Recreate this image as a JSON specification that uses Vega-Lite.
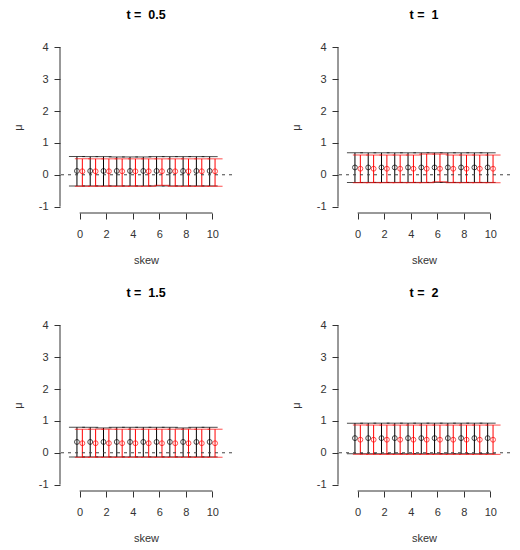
{
  "$schema": "https://vega.github.io/schema/vega-lite/v6.json",
  "padding": {"left": 12, "top": 8, "right": 0, "bottom": 0},
  "data": {
    "values": [
      {"t": 0.5, "skew": 0, "grp": "black", "mean": 0.12, "lo": -0.35, "hi": 0.57},
      {"t": 0.5, "skew": 1, "grp": "black", "mean": 0.12, "lo": -0.35, "hi": 0.57},
      {"t": 0.5, "skew": 2, "grp": "black", "mean": 0.12, "lo": -0.35, "hi": 0.57},
      {"t": 0.5, "skew": 3, "grp": "black", "mean": 0.12, "lo": -0.35, "hi": 0.56},
      {"t": 0.5, "skew": 4, "grp": "black", "mean": 0.12, "lo": -0.35, "hi": 0.56},
      {"t": 0.5, "skew": 5, "grp": "black", "mean": 0.12, "lo": -0.35, "hi": 0.56},
      {"t": 0.5, "skew": 6, "grp": "black", "mean": 0.12, "lo": -0.35, "hi": 0.57},
      {"t": 0.5, "skew": 7, "grp": "black", "mean": 0.12, "lo": -0.35, "hi": 0.57},
      {"t": 0.5, "skew": 8, "grp": "black", "mean": 0.12, "lo": -0.35, "hi": 0.57},
      {"t": 0.5, "skew": 9, "grp": "black", "mean": 0.12, "lo": -0.35, "hi": 0.57},
      {"t": 0.5, "skew": 10, "grp": "black", "mean": 0.12, "lo": -0.35, "hi": 0.57},
      {"t": 0.5, "skew": 0, "grp": "red", "mean": 0.11, "lo": -0.36, "hi": 0.50},
      {"t": 0.5, "skew": 1, "grp": "red", "mean": 0.11, "lo": -0.36, "hi": 0.50},
      {"t": 0.5, "skew": 2, "grp": "red", "mean": 0.11, "lo": -0.36, "hi": 0.50},
      {"t": 0.5, "skew": 3, "grp": "red", "mean": 0.11, "lo": -0.36, "hi": 0.50},
      {"t": 0.5, "skew": 4, "grp": "red", "mean": 0.11, "lo": -0.36, "hi": 0.50},
      {"t": 0.5, "skew": 5, "grp": "red", "mean": 0.11, "lo": -0.36, "hi": 0.50},
      {"t": 0.5, "skew": 6, "grp": "red", "mean": 0.11, "lo": -0.33, "hi": 0.50},
      {"t": 0.5, "skew": 7, "grp": "red", "mean": 0.11, "lo": -0.36, "hi": 0.50},
      {"t": 0.5, "skew": 8, "grp": "red", "mean": 0.11, "lo": -0.36, "hi": 0.50},
      {"t": 0.5, "skew": 9, "grp": "red", "mean": 0.11, "lo": -0.36, "hi": 0.50},
      {"t": 0.5, "skew": 10, "grp": "red", "mean": 0.11, "lo": -0.36, "hi": 0.50},
      {"t": 1, "skew": 0, "grp": "black", "mean": 0.23, "lo": -0.24, "hi": 0.69},
      {"t": 1, "skew": 1, "grp": "black", "mean": 0.23, "lo": -0.24, "hi": 0.69},
      {"t": 1, "skew": 2, "grp": "black", "mean": 0.23, "lo": -0.24, "hi": 0.69},
      {"t": 1, "skew": 3, "grp": "black", "mean": 0.23, "lo": -0.24, "hi": 0.69},
      {"t": 1, "skew": 4, "grp": "black", "mean": 0.23, "lo": -0.24, "hi": 0.69},
      {"t": 1, "skew": 5, "grp": "black", "mean": 0.23, "lo": -0.24, "hi": 0.69},
      {"t": 1, "skew": 6, "grp": "black", "mean": 0.23, "lo": -0.24, "hi": 0.69},
      {"t": 1, "skew": 7, "grp": "black", "mean": 0.23, "lo": -0.24, "hi": 0.69},
      {"t": 1, "skew": 8, "grp": "black", "mean": 0.23, "lo": -0.24, "hi": 0.69},
      {"t": 1, "skew": 9, "grp": "black", "mean": 0.23, "lo": -0.24, "hi": 0.69},
      {"t": 1, "skew": 10, "grp": "black", "mean": 0.23, "lo": -0.24, "hi": 0.69},
      {"t": 1, "skew": 0, "grp": "red", "mean": 0.19, "lo": -0.25, "hi": 0.62},
      {"t": 1, "skew": 1, "grp": "red", "mean": 0.19, "lo": -0.25, "hi": 0.62},
      {"t": 1, "skew": 2, "grp": "red", "mean": 0.19, "lo": -0.25, "hi": 0.62},
      {"t": 1, "skew": 3, "grp": "red", "mean": 0.19, "lo": -0.25, "hi": 0.62},
      {"t": 1, "skew": 4, "grp": "red", "mean": 0.19, "lo": -0.25, "hi": 0.62},
      {"t": 1, "skew": 5, "grp": "red", "mean": 0.19, "lo": -0.25, "hi": 0.65},
      {"t": 1, "skew": 6, "grp": "red", "mean": 0.19, "lo": -0.22, "hi": 0.65},
      {"t": 1, "skew": 7, "grp": "red", "mean": 0.19, "lo": -0.25, "hi": 0.62},
      {"t": 1, "skew": 8, "grp": "red", "mean": 0.19, "lo": -0.25, "hi": 0.62},
      {"t": 1, "skew": 9, "grp": "red", "mean": 0.19, "lo": -0.25, "hi": 0.62},
      {"t": 1, "skew": 10, "grp": "red", "mean": 0.19, "lo": -0.25, "hi": 0.62},
      {"t": 1.5, "skew": 0, "grp": "black", "mean": 0.34, "lo": -0.13, "hi": 0.80},
      {"t": 1.5, "skew": 1, "grp": "black", "mean": 0.34, "lo": -0.13, "hi": 0.80},
      {"t": 1.5, "skew": 2, "grp": "black", "mean": 0.34, "lo": -0.13, "hi": 0.78},
      {"t": 1.5, "skew": 3, "grp": "black", "mean": 0.34, "lo": -0.13, "hi": 0.80},
      {"t": 1.5, "skew": 4, "grp": "black", "mean": 0.34, "lo": -0.13, "hi": 0.80},
      {"t": 1.5, "skew": 5, "grp": "black", "mean": 0.34, "lo": -0.13, "hi": 0.80},
      {"t": 1.5, "skew": 6, "grp": "black", "mean": 0.34, "lo": -0.13, "hi": 0.80},
      {"t": 1.5, "skew": 7, "grp": "black", "mean": 0.34, "lo": -0.13, "hi": 0.80},
      {"t": 1.5, "skew": 8, "grp": "black", "mean": 0.34, "lo": -0.13, "hi": 0.78},
      {"t": 1.5, "skew": 9, "grp": "black", "mean": 0.34, "lo": -0.13, "hi": 0.80},
      {"t": 1.5, "skew": 10, "grp": "black", "mean": 0.34, "lo": -0.13, "hi": 0.80},
      {"t": 1.5, "skew": 0, "grp": "red", "mean": 0.30, "lo": -0.14, "hi": 0.74},
      {"t": 1.5, "skew": 1, "grp": "red", "mean": 0.30, "lo": -0.14, "hi": 0.74},
      {"t": 1.5, "skew": 2, "grp": "red", "mean": 0.30, "lo": -0.14, "hi": 0.74},
      {"t": 1.5, "skew": 3, "grp": "red", "mean": 0.30, "lo": -0.14, "hi": 0.74},
      {"t": 1.5, "skew": 4, "grp": "red", "mean": 0.30, "lo": -0.14, "hi": 0.74},
      {"t": 1.5, "skew": 5, "grp": "red", "mean": 0.30, "lo": -0.14, "hi": 0.74},
      {"t": 1.5, "skew": 6, "grp": "red", "mean": 0.30, "lo": -0.14, "hi": 0.74},
      {"t": 1.5, "skew": 7, "grp": "red", "mean": 0.30, "lo": -0.14, "hi": 0.74},
      {"t": 1.5, "skew": 8, "grp": "red", "mean": 0.30, "lo": -0.14, "hi": 0.74},
      {"t": 1.5, "skew": 9, "grp": "red", "mean": 0.30, "lo": -0.14, "hi": 0.74},
      {"t": 1.5, "skew": 10, "grp": "red", "mean": 0.30, "lo": -0.14, "hi": 0.74},
      {"t": 2, "skew": 0, "grp": "black", "mean": 0.46, "lo": -0.03, "hi": 0.93},
      {"t": 2, "skew": 1, "grp": "black", "mean": 0.46, "lo": -0.03, "hi": 0.93},
      {"t": 2, "skew": 2, "grp": "black", "mean": 0.46, "lo": -0.03, "hi": 0.93},
      {"t": 2, "skew": 3, "grp": "black", "mean": 0.46, "lo": -0.03, "hi": 0.93},
      {"t": 2, "skew": 4, "grp": "black", "mean": 0.46, "lo": -0.03, "hi": 0.93},
      {"t": 2, "skew": 5, "grp": "black", "mean": 0.46, "lo": -0.03, "hi": 0.93},
      {"t": 2, "skew": 6, "grp": "black", "mean": 0.46, "lo": -0.03, "hi": 0.93},
      {"t": 2, "skew": 7, "grp": "black", "mean": 0.46, "lo": -0.03, "hi": 0.93},
      {"t": 2, "skew": 8, "grp": "black", "mean": 0.46, "lo": -0.03, "hi": 0.93},
      {"t": 2, "skew": 9, "grp": "black", "mean": 0.46, "lo": -0.03, "hi": 0.93},
      {"t": 2, "skew": 10, "grp": "black", "mean": 0.46, "lo": -0.03, "hi": 0.93},
      {"t": 2, "skew": 0, "grp": "red", "mean": 0.41, "lo": -0.05, "hi": 0.87},
      {"t": 2, "skew": 1, "grp": "red", "mean": 0.41, "lo": -0.05, "hi": 0.87},
      {"t": 2, "skew": 2, "grp": "red", "mean": 0.41, "lo": -0.05, "hi": 0.87},
      {"t": 2, "skew": 3, "grp": "red", "mean": 0.41, "lo": -0.05, "hi": 0.87},
      {"t": 2, "skew": 4, "grp": "red", "mean": 0.41, "lo": -0.05, "hi": 0.87},
      {"t": 2, "skew": 5, "grp": "red", "mean": 0.41, "lo": -0.05, "hi": 0.87},
      {"t": 2, "skew": 6, "grp": "red", "mean": 0.41, "lo": -0.05, "hi": 0.87},
      {"t": 2, "skew": 7, "grp": "red", "mean": 0.41, "lo": -0.05, "hi": 0.87},
      {"t": 2, "skew": 8, "grp": "red", "mean": 0.41, "lo": -0.05, "hi": 0.87},
      {"t": 2, "skew": 9, "grp": "red", "mean": 0.41, "lo": -0.05, "hi": 0.87},
      {"t": 2, "skew": 10, "grp": "red", "mean": 0.41, "lo": -0.05, "hi": 0.87}
    ]
  },
  "facet": {
    "field": "t",
    "type": "ordinal",
    "header": {"title": null, "labelExpr": "'t = \u00a0' + datum.value"}
  },
  "columns": 2,
  "spacing": {"row": 106, "column": 106},
  "bounds": "flush",
  "resolve": {"axis": {"x": "independent", "y": "independent"}},
  "spec": {
    "width": 172,
    "height": 172,
    "layer": [
      {
        "transform": [{"filter": "datum.grp == 'black'"}],
        "layer": [
          {
            "mark": {"type": "rule", "color": "black", "strokeWidth": 1, "xOffset": -2.7},
            "encoding": {
              "x": {
                "field": "skew",
                "type": "quantitative",
                "title": "skew",
                "scale": {"domain": [-1.48, 11.48], "nice": false, "zero": false},
                "axis": {"values": [0, 2, 4, 6, 8, 10], "tickCount": 6}
              },
              "y": {
                "field": "lo",
                "type": "quantitative",
                "title": "μ",
                "scale": {"domain": [-1.2, 4.2], "nice": false, "zero": false},
                "axis": {"values": [-1, 0, 1, 2, 3, 4], "tickCount": 6}
              },
              "y2": {"field": "hi"}
            }
          },
          {
            "mark": {"type": "tick", "orient": "horizontal", "color": "black", "size": 16, "thickness": 1, "xOffset": -2.7},
            "encoding": {
              "x": {"field": "skew", "type": "quantitative", "title": "skew", "axis": {"values": [0, 2, 4, 6, 8, 10], "tickCount": 6}},
              "y": {"field": "hi", "type": "quantitative", "title": "μ", "axis": {"values": [-1, 0, 1, 2, 3, 4], "tickCount": 6}}
            }
          },
          {
            "mark": {"type": "tick", "orient": "horizontal", "color": "black", "size": 16, "thickness": 1, "xOffset": -2.7},
            "encoding": {
              "x": {"field": "skew", "type": "quantitative", "title": "skew", "axis": {"values": [0, 2, 4, 6, 8, 10], "tickCount": 6}},
              "y": {"field": "lo", "type": "quantitative", "title": "μ", "axis": {"values": [-1, 0, 1, 2, 3, 4], "tickCount": 6}}
            }
          },
          {
            "mark": {"type": "point", "shape": "circle", "filled": false, "color": "black", "size": 24, "strokeWidth": 1, "xOffset": -2.7},
            "encoding": {
              "x": {"field": "skew", "type": "quantitative", "title": "skew", "axis": {"values": [0, 2, 4, 6, 8, 10], "tickCount": 6}},
              "y": {"field": "mean", "type": "quantitative", "title": "μ", "axis": {"values": [-1, 0, 1, 2, 3, 4], "tickCount": 6}}
            }
          }
        ]
      },
      {
        "transform": [{"filter": "datum.grp == 'red'"}],
        "layer": [
          {
            "mark": {"type": "rule", "color": "#ff0000", "strokeWidth": 1, "xOffset": 2.7},
            "encoding": {
              "x": {"field": "skew", "type": "quantitative", "title": "skew", "axis": {"values": [0, 2, 4, 6, 8, 10], "tickCount": 6}},
              "y": {"field": "lo", "type": "quantitative", "title": "μ", "axis": {"values": [-1, 0, 1, 2, 3, 4], "tickCount": 6}},
              "y2": {"field": "hi"}
            }
          },
          {
            "mark": {"type": "tick", "orient": "horizontal", "color": "#ff0000", "size": 15, "thickness": 1, "xOffset": 2.7},
            "encoding": {
              "x": {"field": "skew", "type": "quantitative", "title": "skew", "axis": {"values": [0, 2, 4, 6, 8, 10], "tickCount": 6}},
              "y": {"field": "hi", "type": "quantitative", "title": "μ", "axis": {"values": [-1, 0, 1, 2, 3, 4], "tickCount": 6}}
            }
          },
          {
            "mark": {"type": "tick", "orient": "horizontal", "color": "#ff0000", "size": 15, "thickness": 1, "xOffset": 2.7},
            "encoding": {
              "x": {"field": "skew", "type": "quantitative", "title": "skew", "axis": {"values": [0, 2, 4, 6, 8, 10], "tickCount": 6}},
              "y": {"field": "lo", "type": "quantitative", "title": "μ", "axis": {"values": [-1, 0, 1, 2, 3, 4], "tickCount": 6}}
            }
          },
          {
            "mark": {"type": "point", "shape": "circle", "filled": false, "color": "#ff0000", "size": 24, "strokeWidth": 1, "xOffset": 2.7},
            "encoding": {
              "x": {"field": "skew", "type": "quantitative", "title": "skew", "axis": {"values": [0, 2, 4, 6, 8, 10], "tickCount": 6}},
              "y": {"field": "mean", "type": "quantitative", "title": "μ", "axis": {"values": [-1, 0, 1, 2, 3, 4], "tickCount": 6}}
            }
          }
        ]
      },
      {
        "transform": [{"filter": "datum.skew == 0 && datum.grp == 'black'"}],
        "layer": [
          {
            "mark": {"type": "rule", "color": "#444444", "strokeWidth": 1, "strokeDash": [3, 4]},
            "encoding": {"y": {"datum": 0, "title": "μ", "axis": {"values": [-1, 0, 1, 2, 3, 4], "tickCount": 6}}}
          },
          {
            "mark": {"type": "rule", "color": "#333333", "strokeWidth": 1},
            "encoding": {
              "x": {"datum": 0, "title": "skew", "axis": {"values": [0, 2, 4, 6, 8, 10], "tickCount": 6}},
              "x2": {"datum": 10},
              "y": {"datum": -1.2, "title": "μ", "axis": {"values": [-1, 0, 1, 2, 3, 4], "tickCount": 6}}
            }
          },
          {
            "mark": {"type": "rule", "color": "#333333", "strokeWidth": 1},
            "encoding": {
              "x": {"datum": -1.48, "title": "skew", "axis": {"values": [0, 2, 4, 6, 8, 10], "tickCount": 6}},
              "y": {"datum": -1, "title": "μ", "axis": {"values": [-1, 0, 1, 2, 3, 4], "tickCount": 6}},
              "y2": {"datum": 4}
            }
          }
        ]
      }
    ]
  },
  "config": {
    "font": "Liberation Sans",
    "view": {"stroke": null},
    "header": {
      "labelFont": "Liberation Sans",
      "labelFontSize": 12.5,
      "labelFontWeight": "bold",
      "labelColor": "#000000",
      "labelPadding": 20
    },
    "axis": {
      "domain": false,
      "grid": false,
      "ticks": true,
      "labelOverlap": false,
      "labelExpr": "'' + datum.value",
      "tickColor": "#333333",
      "tickSize": 6,
      "labelFont": "Liberation Sans",
      "labelFontSize": 11,
      "labelColor": "#333333",
      "titleFont": "Liberation Sans",
      "titleFontSize": 11,
      "titleFontWeight": "normal",
      "titleColor": "#333333"
    },
    "axisX": {"labelPadding": 9, "titlePadding": 15, "tickCount": 6},
    "axisY": {"labelPadding": 6, "titlePadding": 15, "tickCount": 6}
  }
}
